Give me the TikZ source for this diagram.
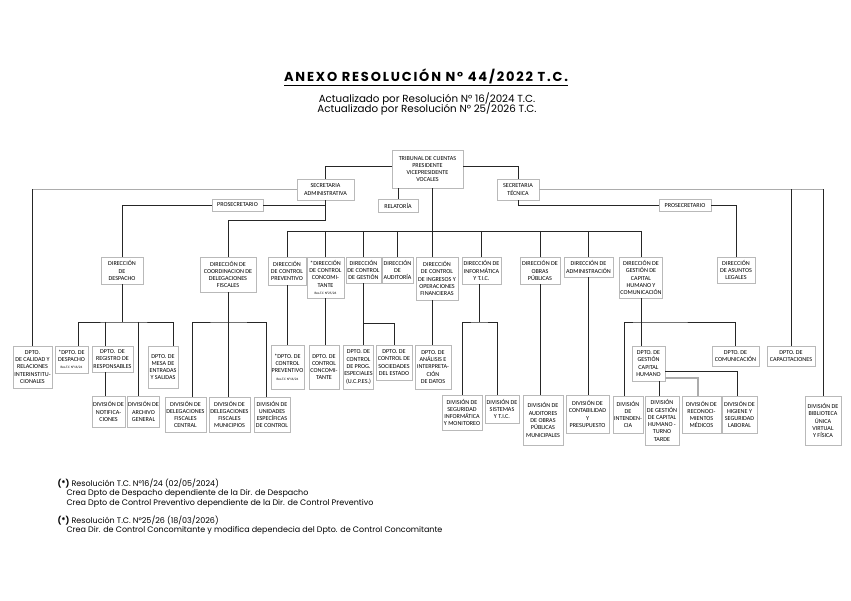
\documentclass[tikz,border=0pt]{standalone}
\usepackage{fontspec}
\setmainfont{Carlito}
\newfontfamily\titlefont{Poppins}
\usetikzlibrary{positioning,calc}
\newcommand{\resnote}[1]{{\fontsize{3.4}{4}\selectfont #1}}

\begin{document}
\begin{tikzpicture}[
    x=1pt, y=-1pt,
    % Node styles
    unit/.style={draw=gray!55, line width=0.8pt, fill=white, align=center, inner sep=0.5pt, font=\fontsize{6.1}{7.3}\selectfont},
    sz/.style 2 args={minimum width=#1pt, minimum height=#2pt},
    link/.style={line width=0.7pt, color=black!85},
    graylink/.style={line width=1.3pt, color=gray!65},
    subline/.style={font=\titlefont\fontsize{10.3}{10}\selectfont},
    note/.style={anchor=north west, align=left, font=\titlefont\fontsize{8}{9.5}\selectfont}
]
\useasboundingbox (0,0) rectangle (851,601);

% Title
\node[font=\titlefont\bfseries\fontsize{13}{15}\selectfont\addfontfeatures{LetterSpace=14}] (title) at (426,77) {\underline{ANEXO RESOLUCIÓN N° 44/2022 T.C.}};
\node[subline] (subtitle1) at (427,99) {Actualizado por Resolución N° 16/2024 T.C.};
\node[subline] (subtitle2) at (427,108.5) {Actualizado por Resolución N° 25/2026 T.C.};

% Top level
\node[unit, sz={71}{38}] (trib) at (427.5,169) {TRIBUNAL DE CUENTAS\\PRESIDENTE\\VICEPRESIDENTE\\VOCALES};
\node[unit, sz={57}{21}] (secadm) at (325.5,189.5) {SECRETARIA\\ADMINISTRATIVA};
\node[unit, sz={42}{21}] (sectec) at (518,189.5) {SECRETARIA\\TÉCNICA};
\node[unit, sz={40}{13}] (relat) at (398,205.5) {RELATORÍA};
\node[unit, sz={51}{12}] (prosadm) at (237.5,205) {PROSECRETARIO};
\node[unit, sz={52}{12}] (prostec) at (685,205.5) {PROSECRETARIO};

% Direcciones
\node[unit, sz={42}{27}] (ddesp) at (122,270.5) {DIRECCIÓN\\DE\\DESPACHO};
\node[unit, sz={56}{35}] (dcoord) at (228,274.5) {DIRECCIÓN DE\\COORDINACION DE\\DELEGACIONES\\FISCALES};
\node[unit, sz={38}{28}] (dprev) at (287,271) {DIRECCIÓN\\DE CONTROL\\PREVENTIVO};
\node[unit, sz={37}{41}] (dconc) at (325.5,277.5) {*DIRECCIÓN\\DE CONTROL\\CONCOMI-\\TANTE\\\resnote{Res.T.C N°25/26}};
\node[unit, sz={35}{26}] (dgest) at (363.5,270) {DIRECCIÓN\\DE CONTROL\\DE GESTIÓN};
\node[unit, sz={31}{26}] (daud) at (397.5,270) {DIRECCIÓN\\DE\\AUDITORÍA};
\node[unit, sz={42}{43}] (ding) at (437,278.5) {DIRECCIÓN\\DE CONTROL\\DE INGRESOS Y\\OPERACIONES\\FINANCIERAS};
\node[unit, sz={39}{27}] (dinf) at (481.5,270.5) {DIRECCIÓN DE\\INFORMÁTICA\\Y T.I.C.};
\node[unit, sz={40}{27}] (dobras) at (540,270.5) {DIRECCIÓN DE\\OBRAS\\PÚBLICAS};
\node[unit, sz={49}{20}] (dadm) at (588.5,267) {DIRECCIÓN DE\\ADMINISTRACIÓN};
\node[unit, sz={38}{41}] (dcap) at (641,277.5) {DIRECCIÓN DE\\GESTIÓN DE\\CAPITAL\\HUMANO Y\\COMUNICACIÓN};
\node[unit, sz={38}{26}] (dleg) at (736,270) {DIRECCIÓN\\DE ASUNTOS\\LEGALES};

% Departamentos
\node[unit, sz={39}{42}] (calidad) at (32.5,367) {DPTO.\\DE CALIDAD Y\\RELACIONES\\INTERINSTITU-\\CIONALES};
\node[unit, sz={33}{27}] (dpdesp) at (71.5,359.5) {*DPTO. DE\\DESPACHO\\\resnote{Res.T.C N°16/24}};
\node[unit, sz={41}{26}] (dpreg) at (112.5,359) {DPTO. \ DE\\REGISTRO DE\\RESPONSABLES};
\node[unit, sz={30}{42}] (dpmesa) at (163,367) {DPTO. DE\\MESA DE\\ENTRADAS\\Y SALIDAS};
\node[unit, sz={33}{44}] (dpprev) at (287.5,367) {*DPTO. DE\\CONTROL\\PREVENTIVO\\\resnote{Res.T.C N°16/24}};
\node[unit, sz={30}{44}] (dpconc) at (324,367) {DPTO. DE\\CONTROL\\CONCOMI-\\TANTE};
\node[unit, sz={29}{44}] (dpprog) at (358.5,367) {DPTO. DE\\CONTROL\\DE PROG.\\ESPECIALES\\(U.C.P.ES.)};
\node[unit, sz={36}{35}] (dpsoc) at (394,362.5) {DPTO. DE\\CONTROL DE\\SOCIEDADES\\DEL ESTADO};
\node[unit, sz={36}{44}] (dpanal) at (433,367) {DPTO. DE\\ANÁLISIS E\\INTERPRETA-\\CIÓN\\DE DATOS};
\node[unit, sz={33}{35}] (dpgch) at (648.5,363.5) {DPTO. DE\\GESTIÓN\\CAPITAL\\HUMANO};
\node[unit, sz={47}{20}] (dpcom) at (735.5,356) {DPTO. DE\\COMUNICACIÓN};
\node[unit, sz={48}{20}] (dpcapac) at (791,356) {DPTO. DE\\CAPACITACIONES};

% Divisiones
\node[unit, sz={33}{31}] (divnotif) at (108.5,411.5) {DIVISIÓN DE\\NOTIFICA-\\CIONES};
\node[unit, sz={31}{31}] (divarch) at (143.5,411.5) {DIVISIÓN DE\\ARCHIVO\\GENERAL};
\node[unit, sz={41}{35}] (divdelcen) at (185.5,414.5) {DIVISIÓN DE\\DELEGACIONES\\FISCALES\\CENTRAL};
\node[unit, sz={41}{35}] (divdelmun) at (229.5,414.5) {DIVISIÓN DE\\DELEGACIONES\\FISCALES\\MUNICIPIOS};
\node[unit, sz={36}{35}] (divunid) at (272,414.5) {DIVISIÓN DE\\UNIDADES\\ESPECÍFICAS\\DE CONTROL};
\node[unit, sz={40}{35}] (divseg) at (462,412.5) {DIVISIÓN DE\\SEGURIDAD\\INFORMÁTICA\\Y MONITOREO};
\node[unit, sz={34}{28}] (divsis) at (502,409) {DIVISIÓN DE\\SISTEMAS\\Y T.I.C.};
\node[unit, sz={40}{50}] (divaud) at (543,420) {DIVISIÓN DE\\AUDITORES\\DE OBRAS\\PÚBLICAS\\MUNICIPALES};
\node[unit, sz={43}{38}] (divcont) at (587.5,414) {DIVISIÓN DE\\CONTABILIDAD\\Y\\PRESUPUESTO};
\node[unit, sz={30}{37}] (divint) at (628,414.5) {DIVISIÓN\\DE\\INTENDEN-\\CIA};
\node[unit, sz={34}{49}] (divturno) at (662,420.5) {DIVISIÓN\\DE GESTIÓN\\DE CAPITAL\\HUMANO -\\TURNO\\TARDE};
\node[unit, sz={39}{37}] (divrec) at (701.5,414.5) {DIVISIÓN DE\\RECONOCI-\\MIENTOS\\MÉDICOS};
\node[unit, sz={35}{37}] (divhig) at (739.5,414.5) {DIVISIÓN DE\\HIGIENE Y\\SEGURIDAD\\LABORAL};
\node[unit, sz={36}{49}] (divbib) at (823,420.5) {DIVISIÓN DE\\BIBLIOTECA\\ÚNICA\\VIRTUAL\\Y FÍSICA};

% Bus points
\coordinate (rowdir) at (432,231);
\coordinate (admjoin) at (325.5,220);
\coordinate (despbus) at (122,322);
\coordinate (coordbus) at (228,322);
\coordinate (gestbus) at (363.5,323);
\coordinate (infbus) at (479,322);
\coordinate (capbus) at (641,322);

% Tribunal
\draw[link] ([yshift=3pt]trib.west) -| (secadm.north);
\draw[link] ([yshift=3pt]trib.east) -| (sectec.north);
\draw[link] (trib.south -| relat.north) -- (relat.north);
\draw[link] (trib.south -| rowdir) -- (rowdir);
\draw[link] (dprev.north |- rowdir) -- (dcap.north |- rowdir);
\foreach \d in {dprev,dconc,dgest,daud,dinf,dobras,dadm,dcap}
    \draw[link] (\d.north |- rowdir) -- (\d.north);
\draw[link] (rowdir) -- (rowdir |- ding.north);

% Secretaria administrativa
\draw[graylink] (secadm.west) -- (secadm.west -| calidad.north);
\draw[link] (secadm.west -| calidad.north) -- (calidad.north);
\draw[link] (secadm.south) -- (admjoin) -| (dcoord.north);
\draw[link] (prosadm.east) -- (prosadm.east -| secadm.south);
\draw[link] (prosadm.west) -| (ddesp.north);

% Secretaria tecnica
\draw[graylink] (sectec.east) -- (sectec.east -| divbib.north);
\draw[link] (sectec.east -| divbib.north) -- (divbib.north);
\draw[link] (sectec.east -| dpcapac.north) -- (dpcapac.north);
\draw[link] (sectec.south) |- (prostec.west);
\draw[link] (prostec.east) -| (dleg.north);

% Despacho
\draw[link] (ddesp.south) -- (despbus);
\draw[link] ([xshift=6.5pt]dpdesp.north) |- (despbus) -| ([xshift=10pt]dpmesa.north);
\draw[link] ([xshift=-7.5pt]dpreg.north |- despbus) -- ([xshift=-7.5pt]dpreg.north);
\draw[link] ([xshift=-7.5pt]dpreg.south) -- ([xshift=-7.5pt]dpreg.south |- divnotif.north);
\draw[link] ([xshift=-5.5pt]divarch.north |- despbus) -- ([xshift=-5.5pt]divarch.north);

% Coordinacion de delegaciones
\draw[link] (dcoord.south) -- (coordbus);
\draw[link] ([xshift=6.5pt]divdelcen.north) |- (coordbus) -| ([xshift=-6pt]divunid.north);
\draw[link] (coordbus) -- (coordbus |- divdelmun.north);

% Control
\draw[link] (dprev.south) -- (dprev.south |- dpprev.north);
\draw[link] (dconc.south) -- (dconc.south |- dpconc.north);
\draw[link] (dgest.south) -- (dgest.south |- dpprog.north);
\draw[link] (gestbus) -| (dpsoc.north);
\draw[link] (rowdir |- ding.south) -- (rowdir |- dpanal.north);

% Informatica, obras, administracion
\draw[link] ([xshift=-2.5pt]dinf.south) -- (infbus);
\draw[link] (divseg.north) |- (infbus) -| ([xshift=-5pt]divsis.north);
\draw[link] (dobras.south) -- (dobras.south |- divaud.north);
\draw[link] (dadm.south) -- (dadm.south |- divcont.north);

% Capital humano
\draw[link] (dcap.south) -- (dcap.south |- dpgch.north);
\draw[link] ([xshift=-4pt]divint.north) |- (capbus) -| (dpcom.north);
\draw[link] ([xshift=10.5pt]dpgch.south) -- ([xshift=10.5pt]dpgch.south |- divturno.north);
\draw[link] ([yshift=-7.5pt]dpgch.east) -| ([xshift=-2pt]divhig.north);
\draw[graylink] ([yshift=-14.5pt]dpgch.east) -| ([xshift=-3.5pt]divrec.north);

% Notes
\node[note] (note1) at (54,475) {{\bfseries (*)} Resolución T.C. N°16/24 (02/05/2024)\\
    \hspace*{9pt}Crea Dpto de Despacho dependiente de la Dir. de Despacho\\
    \hspace*{9pt}Crea Dpto de Control Preventivo dependiente de la Dir. de Control Preventivo};
\node[note] (note2) at (54,512) {{\bfseries (*)} Resolución T.C. N°25/26 (18/03/2026)\\
    \hspace*{9pt}Crea Dir. de Control Concomitante y modifica dependecia del Dpto. de Control Concomitante};

\end{tikzpicture}
\end{document}
